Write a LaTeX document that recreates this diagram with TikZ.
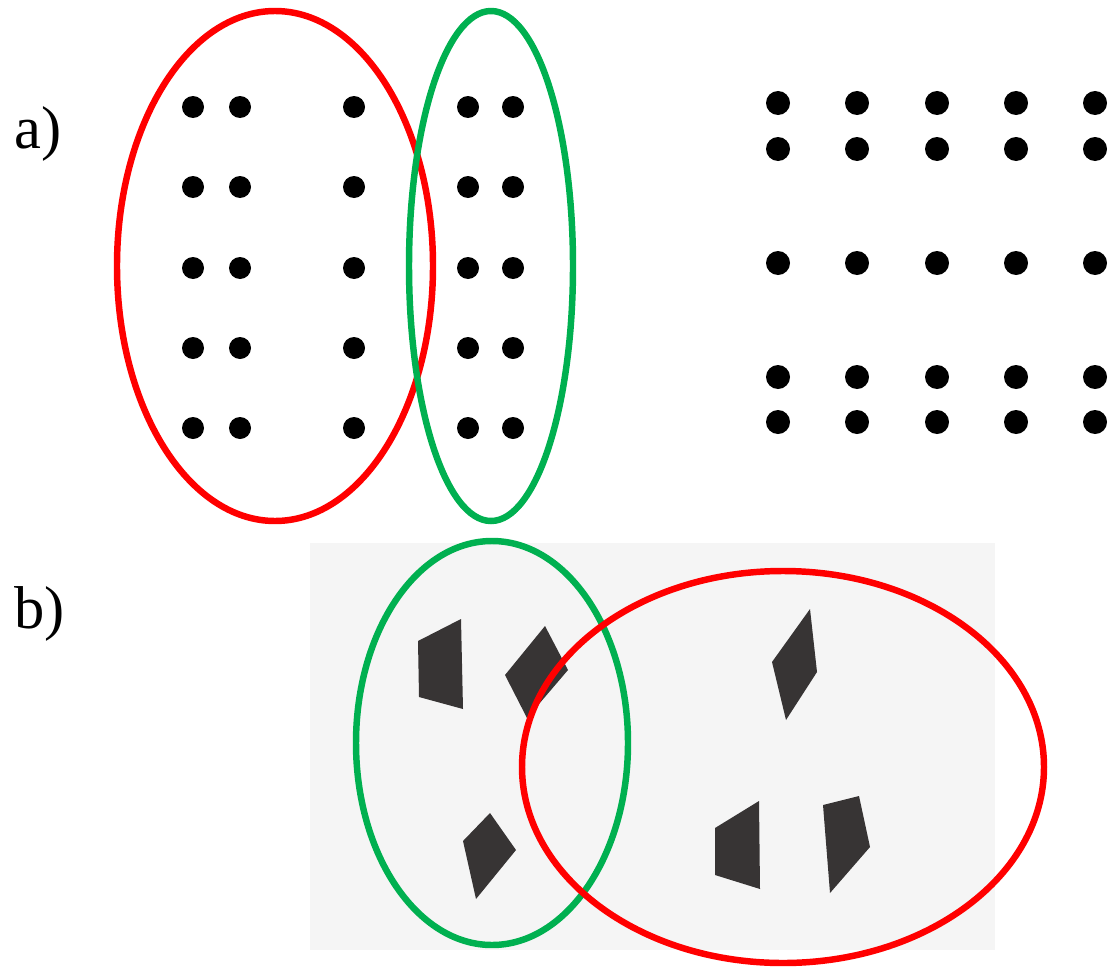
\documentclass[tikz,border=0pt]{standalone}
\usepackage{fontspec}
\setmainfont{LiberationSerif}[Extension=.ttf,UprightFont=*-Regular]
\definecolor{ringred}{RGB}{255,0,0}
\definecolor{ringgreen}{RGB}{0,176,80}
\definecolor{shapegray}{RGB}{55,52,52}
\tikzset{
  ring/.style={line width=4.6pt},
  dot/.style={fill=black},
  tile/.style={fill=shapegray},
  partlabel/.style={anchor=base west,inner sep=0pt,font=\rmfamily\fontsize{43}{43}\selectfont}
}
\begin{document}
\begin{tikzpicture}[x=0.025cm,y=-0.025cm]
 \useasboundingbox (0,0) rectangle (1110,966);
 % scanned page behind part b
 \fill[black!4] (310,543) rectangle (995,950);
 \node[partlabel] (la) at (14,148) {a)};
 \node[partlabel] (lb) at (14,628) {b)};
 \begin{scope}
  % left grid: two pairs of columns and a single one
  \foreach \cx in {193,240,354,468,513}{
    \foreach \cy in {107,187,268,348,428}{
      \fill[dot] (\cx,\cy) circle (11);
    }
  }
  \draw[ring,ringred] (275,266) ellipse (158 and 255);
  \draw[ring,ringgreen] (491,266) ellipse (82 and 255);
 \end{scope}
 \begin{scope}
  % right grid: rows grouped in pairs
  \foreach \cx in {778,857,937,1016,1095}{
    \foreach \cy in {103,149,263,377,422}{
      \fill[dot] (\cx,\cy) circle (12);
    }
  }
 \end{scope}
 \begin{scope}
  \fill[tile] (418,641) -- (461,619) -- (463,709) -- (419,697) -- cycle;
  \fill[tile] (545,626) -- (568,670) -- (527,718) -- (505,675) -- cycle;
  \fill[tile] (810,609) -- (817,672) -- (786,720) -- (772,662) -- cycle;
  \fill[tile] (490,813) -- (516,850) -- (476,899) -- (463,841) -- cycle;
  \fill[tile] (715,828) -- (759,801) -- (760,889) -- (715,875) -- cycle;
  \fill[tile] (823,805) -- (859,796) -- (870,847) -- (830,893) -- cycle;
  \draw[ring,ringgreen] (492,743) ellipse (136 and 202);
  \draw[ring,ringred] (783,767) ellipse (261 and 196);
 \end{scope}
\end{tikzpicture}
\end{document}
